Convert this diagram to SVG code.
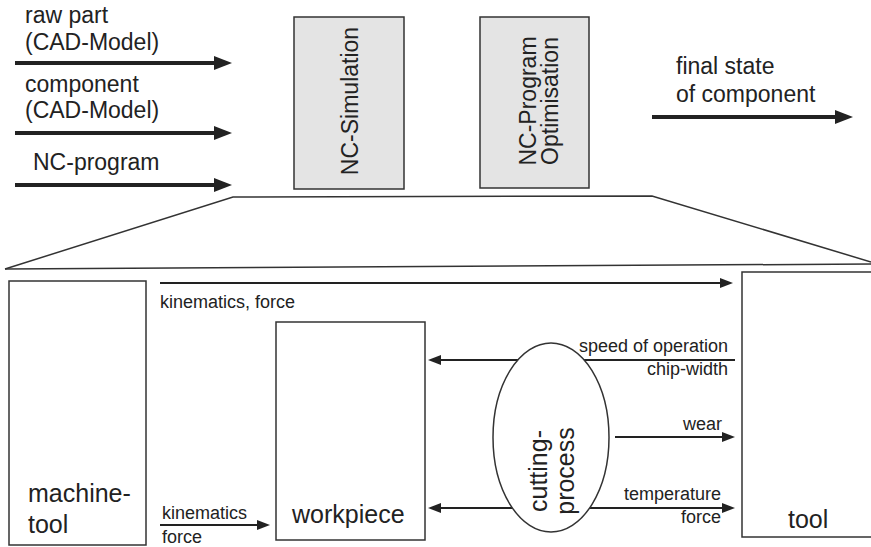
<svg xmlns="http://www.w3.org/2000/svg" width="871" height="547" viewBox="0 0 871 547">
<style>
text{font-family:"Liberation Sans",Arial,sans-serif;fill:#222}
.big{font-size:23px}
.lab{font-size:18px}
.node{font-size:25px}
.box{fill:#fff;stroke:#333;stroke-width:1.5}
.gbox{fill:#e4e4e4;stroke:#333;stroke-width:1.5}
.thick{stroke:#222;stroke-width:4;fill:none}
.thin{stroke:#222;stroke-width:2;fill:none}
.frame{stroke:#333;stroke-width:1.5;fill:none}
</style>
<defs>
<marker id="bigHead" markerUnits="userSpaceOnUse" markerWidth="18" markerHeight="16" refX="9" refY="7" orient="auto-start-reverse" viewBox="0 0 18 16">
<path d="M0,0 L18,7 L0,14 z" fill="#222"/>
</marker>
<marker id="smallHead" markerUnits="userSpaceOnUse" markerWidth="14" markerHeight="12" refX="10" refY="5" orient="auto-start-reverse" viewBox="0 0 14 12">
<path d="M0,0 L13,5 L0,10 z" fill="#222"/>
</marker>
</defs>
<rect width="871" height="547" fill="#fff"/>

<g id="inputs">
<text class="big" x="25" y="23">raw part</text>
<text class="big" x="25" y="50">(CAD-Model)</text>
<text class="big" x="25" y="92">component</text>
<text class="big" x="25" y="118">(CAD-Model)</text>
<text class="big" x="33" y="170">NC-program</text>
</g>

<g id="nc-simulation">
<rect class="gbox" x="294" y="17" width="110" height="172"/>
<text class="big" text-anchor="middle" transform="translate(358,101) rotate(-90)">NC-Simulation</text>
</g>

<g id="nc-optimisation">
<rect class="gbox" x="480" y="17" width="109" height="171"/>
<text class="big" text-anchor="middle" transform="translate(536,101) rotate(-90)">NC-Program</text>
<text class="big" text-anchor="middle" transform="translate(558,101) rotate(-90)">Optimisation</text>
</g>

<g id="output">
<text class="big" x="676" y="74">final state</text>
<text class="big" x="676" y="102">of component</text>
</g>

<g id="zoom-frame">
<polyline class="frame" points="5,269 233,197 652,196 871,262"/>
<line class="frame" x1="5" y1="269" x2="871" y2="264"/>
</g>

<g id="connectors">
<line class="thick" x1="15" y1="63" x2="223" y2="63" marker-end="url(#bigHead)"/>
<line class="thick" x1="15" y1="133" x2="223" y2="133" marker-end="url(#bigHead)"/>
<line class="thick" x1="15" y1="185" x2="223" y2="185" marker-end="url(#bigHead)"/>
<line class="thick" x1="652" y1="117" x2="844" y2="117" marker-end="url(#bigHead)"/>
<line class="thin" x1="160" y1="283" x2="730" y2="283" marker-end="url(#smallHead)"/>
<line class="thin" x1="160" y1="525" x2="267" y2="525" marker-end="url(#smallHead)"/>
<line class="thin" x1="735" y1="360" x2="431" y2="360" marker-end="url(#smallHead)"/>
<line class="thin" x1="431" y1="508" x2="732" y2="508" marker-start="url(#smallHead)" marker-end="url(#smallHead)"/>
<line class="thin" x1="615" y1="437" x2="732" y2="437" marker-end="url(#smallHead)"/>
</g>

<g id="labels">
<text class="lab" x="160" y="308">kinematics, force</text>
<text class="lab" x="162" y="519">kinematics</text>
<text class="lab" x="162" y="543">force</text>
<text class="lab" x="728" y="352" text-anchor="end">speed of operation</text>
<text class="lab" x="728" y="375" text-anchor="end">chip-width</text>
<text class="lab" x="722" y="430" text-anchor="end">wear</text>
<text class="lab" x="721" y="500" text-anchor="end">temperature</text>
<text class="lab" x="721" y="523" text-anchor="end">force</text>
</g>

<g id="machine-tool">
<rect class="box" x="9" y="281" width="137" height="264"/>
<text class="node" x="28" y="502">machine-</text>
<text class="node" x="28" y="533">tool</text>
</g>

<g id="workpiece">
<rect class="box" x="276" y="322" width="149" height="218"/>
<text class="node" x="292" y="523">workpiece</text>
</g>

<g id="cutting-process">
<ellipse class="box" cx="551" cy="437.5" rx="58" ry="94.5"/>
<text class="node" text-anchor="middle" transform="translate(547,471) rotate(-90)">cutting-</text>
<text class="node" text-anchor="middle" transform="translate(574,471) rotate(-90)">process</text>
</g>

<g id="tool">
<rect class="box" x="742" y="272" width="140" height="265"/>
<text class="node" x="788" y="528">tool</text>
</g>
</svg>
